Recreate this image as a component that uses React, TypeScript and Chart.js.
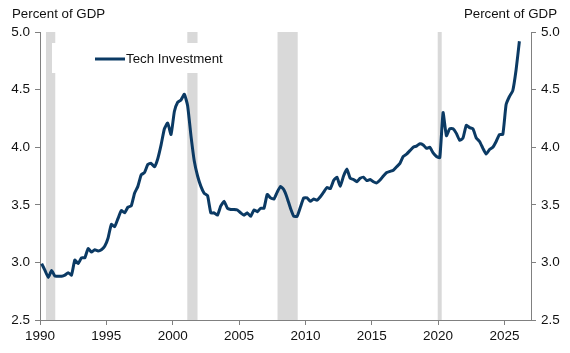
import { useEffect, useRef } from "react";
import { Chart, registerables } from "chart.js";

Chart.register(...registerables);

// Quarterly series, first observation 1990 Q1 (plotted at mid-quarter)
const firstYear = 1990;
const techInvestment: number[] = [
  2.99, 2.93, 2.87, 2.93, // 1990
  2.88, 2.88, 2.88, 2.89, // 1991
  2.91, 2.89, 3.02, 2.99, // 1992
  3.04, 3.04, 3.12, 3.09, // 1993
  3.11, 3.10, 3.11, 3.14, // 1994
  3.21, 3.33, 3.31, 3.38, // 1995
  3.45, 3.43, 3.48, 3.49, // 1996
  3.60, 3.66, 3.76, 3.78, // 1997
  3.85, 3.86, 3.83, 3.90, // 1998
  4.02, 4.16, 4.21, 4.11, // 1999
  4.31, 4.39, 4.41, 4.46, // 2000
  4.36, 4.10, 3.88, 3.75, // 2001
  3.66, 3.60, 3.58, 3.43, // 2002
  3.43, 3.41, 3.49, 3.53, // 2003
  3.47, 3.46, 3.46, 3.455, // 2004
  3.43, 3.41, 3.43, 3.40, // 2005
  3.455, 3.44, 3.47, 3.47, // 2006
  3.59, 3.56, 3.55, 3.61, // 2007
  3.66, 3.63, 3.56, 3.47, // 2008
  3.40, 3.40, 3.48, 3.56, // 2009
  3.56, 3.53, 3.55, 3.54, // 2010
  3.57, 3.61, 3.65, 3.64, // 2011
  3.71, 3.74, 3.66, 3.75, // 2012
  3.81, 3.73, 3.72, 3.70, // 2013
  3.73, 3.74, 3.71, 3.72, // 2014
  3.70, 3.69, 3.715, 3.75, // 2015
  3.78, 3.79, 3.80, 3.83, // 2016
  3.86, 3.92, 3.94, 3.97, // 2017
  4.00, 4.01, 4.03, 4.02, // 2018
  3.99, 4.00, 3.95, 3.92, // 2019
  3.91, 4.30, 4.10, 4.16, // 2020
  4.16, 4.12, 4.06, 4.08, // 2021
  4.19, 4.17, 4.16, 4.08, // 2022
  4.05, 3.99, 3.94, 3.98, // 2023
  4.00, 4.05, 4.11, 4.11, // 2024
  4.37, 4.44, 4.49, 4.67, // 2025
  4.92, // 2026
];

// Recession periods (start, end) in fractional years
const recessions: [number, number][] = [
  [1990.45, 1991.15],
  [2001.1, 2001.87],
  [2007.9, 2009.42],
  [2019.97, 2020.27],
];

const xTicks = [1990, 1995, 2000, 2005, 2010, 2015, 2020, 2025];
const yTicks = [2.5, 3.0, 3.5, 4.0, 4.5, 5.0];
const xRange = [1990, 2027];
const yRange = [2.5, 5.0];

const seriesLabel = "Tech Investment";
const axisTitle = "Percent of GDP";

const NAVY = "#0b3a64";
const AXIS = "#808080";
const TEXT = "#111111";
const FONT = "'Liberation Sans', Arial, sans-serif";

export default function App() {
  const canvasRef = useRef<HTMLCanvasElement | null>(null);

  useEffect(() => {
    const canvas = canvasRef.current;
    if (!canvas) return;

    const points = techInvestment.map((v, i) => ({
      x: firstYear + 0.125 + i * 0.25,
      y: v,
    }));

    const recessionBands = {
      id: "recessionBands",
      beforeDatasetsDraw(chart: any) {
        const { ctx, chartArea, scales } = chart;
        ctx.save();
        ctx.fillStyle = "#d9d9d9";
        for (const [a, b] of recessions) {
          const x1 = scales.x.getPixelForValue(a);
          const x2 = scales.x.getPixelForValue(b);
          ctx.fillRect(x1, chartArea.top, x2 - x1, chartArea.bottom - chartArea.top);
        }
        ctx.restore();
      },
    };

    const legendAndTitles = {
      id: "legendAndTitles",
      afterDatasetsDraw(chart: any) {
        const { ctx, chartArea } = chart;
        ctx.save();
        // legend box
        const bx = chartArea.left + 12;
        const by = chartArea.top + 11;
        ctx.fillStyle = "#ffffff";
        ctx.fillRect(bx, by, 180, 30);
        const ly = by + 16;
        ctx.strokeStyle = NAVY;
        ctx.lineWidth = 3;
        ctx.beginPath();
        ctx.moveTo(bx + 43, ly);
        ctx.lineTo(bx + 73, ly);
        ctx.stroke();
        ctx.fillStyle = TEXT;
        ctx.font = `13.3px ${FONT}`;
        ctx.textBaseline = "middle";
        ctx.textAlign = "left";
        ctx.fillText(seriesLabel, bx + 74, ly);

        // axis titles
        ctx.textBaseline = "alphabetic";
        ctx.fillText(axisTitle, 12, 18);
        ctx.textAlign = "right";
        ctx.fillText(axisTitle, 557, 18);
        ctx.restore();
      },
    };

    const tickFont = { family: FONT, size: 13.5 };

    const chart = new Chart(canvas, {
      type: "line",
      data: {
        datasets: [
          {
            label: seriesLabel,
            data: points,
            borderColor: NAVY,
            borderWidth: 3,
            pointRadius: 0,
            tension: 0.15,
            fill: false,
            yAxisID: "y",
          },
        ],
      },
      options: {
        responsive: false,
        animation: false,
        events: [],
        layout: { padding: { top: 32, left: 0, right: 0, bottom: 0 } },
        plugins: {
          legend: { display: false },
          tooltip: { enabled: false },
          title: { display: false },
        },
        scales: {
          x: {
            type: "linear",
            min: xRange[0],
            max: xRange[1],
            afterBuildTicks: (s: any) => {
              s.ticks = xTicks.map((v) => ({ value: v }));
            },
            afterFit: (s: any) => {
              s.height = 33;
            },
            ticks: {
              color: TEXT,
              font: tickFont,
              padding: 3,
              maxRotation: 0,
              autoSkip: false,
              callback: (v: any) => String(v),
            },
            grid: {
              display: true,
              drawOnChartArea: false,
              drawTicks: true,
              tickLength: 5,
              color: AXIS,
            },
            border: { display: true, color: AXIS, width: 1 },
          },
          y: {
            position: "left",
            min: yRange[0],
            max: yRange[1],
            afterBuildTicks: (s: any) => {
              s.ticks = yTicks.map((v) => ({ value: v }));
            },
            afterFit: (s: any) => {
              s.width = 40;
            },
            ticks: {
              color: TEXT,
              font: tickFont,
              padding: 5,
              callback: (v: any) => Number(v).toFixed(1),
            },
            grid: {
              display: true,
              drawOnChartArea: false,
              drawTicks: true,
              tickLength: 5,
              color: AXIS,
            },
            border: { display: true, color: AXIS, width: 1 },
          },
          y2: {
            position: "right",
            min: yRange[0],
            max: yRange[1],
            afterBuildTicks: (s: any) => {
              s.ticks = yTicks.map((v) => ({ value: v }));
            },
            afterFit: (s: any) => {
              s.width = 39;
            },
            ticks: {
              color: TEXT,
              font: tickFont,
              padding: 5,
              callback: (v: any) => Number(v).toFixed(1),
            },
            grid: {
              display: true,
              drawOnChartArea: false,
              drawTicks: true,
              tickLength: 5,
              color: AXIS,
            },
            border: { display: true, color: AXIS, width: 1 },
          },
        },
      },
      plugins: [recessionBands, legendAndTitles],
    } as any);

    return () => {
      chart.destroy();
    };
  }, []);

  return (
    <div
      style={{
        position: "absolute",
        left: 0,
        top: 0,
        width: 570,
        height: 353,
        background: "#ffffff",
      }}
    >
      <canvas ref={canvasRef} width={570} height={353} />
    </div>
  );
}
